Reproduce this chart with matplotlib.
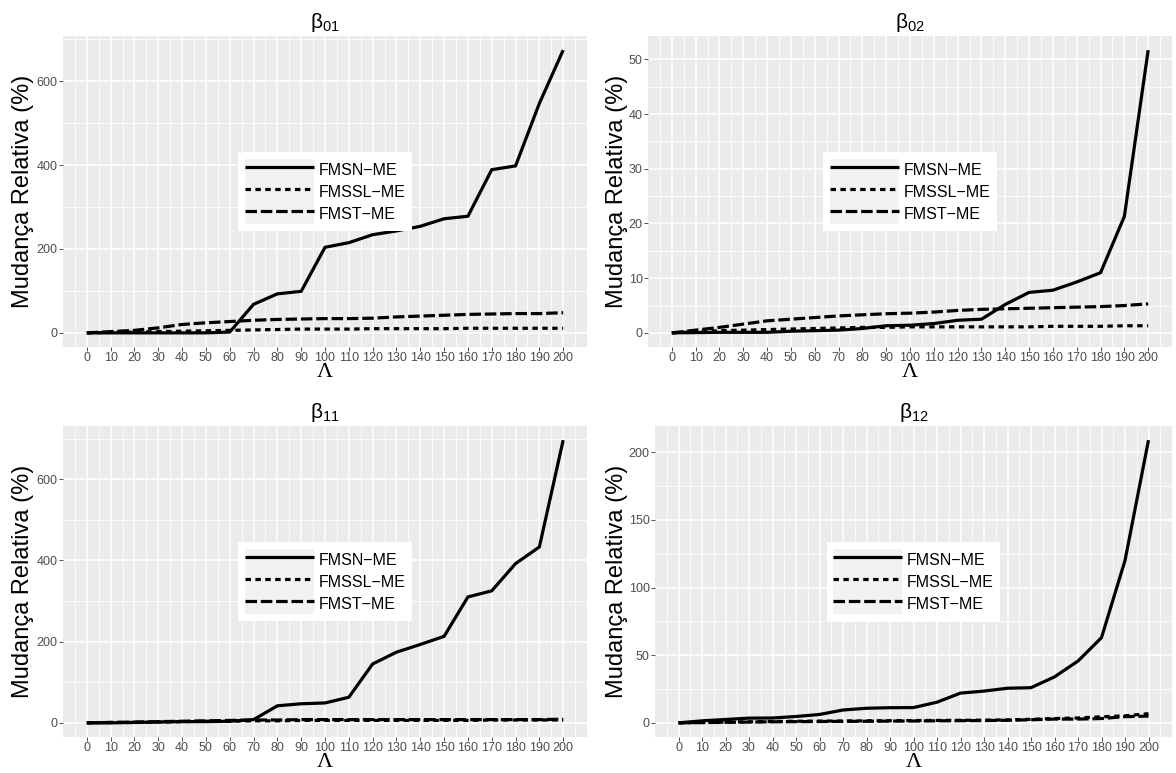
import numpy as np
import matplotlib
matplotlib.use('Agg')
import matplotlib.pyplot as plt
import matplotlib.transforms as mtransforms
from matplotlib.legend_handler import HandlerLine2D
from matplotlib.patches import Rectangle
from matplotlib.lines import Line2D

plt.rcParams['font.family'] = ['Liberation Sans', 'DejaVu Sans']
plt.rcParams['mathtext.default'] = 'regular'

# valores de lambda
lam = list(range(0, 201, 10))

# beta_01
b01_fmsn = [0, 0, 0, 0, 0, 0, 2, 68, 93, 99, 204, 215, 234, 243, 254, 272, 278, 389, 398, 547, 674]
b01_fmssl = [0, 1, 2, 3, 4, 5, 6, 7, 8, 9, 9, 9, 10, 10, 10, 10, 11, 11, 11, 11, 11]
b01_fmst = [0, 3, 6, 12, 20, 24, 27, 30, 32, 33, 34, 34, 35, 38, 40, 42, 44, 45, 46, 46, 48]

# beta_02
b02_fmsn = [0, 0.05, 0.1, 0.1, 0.1, 0.3, 0.4, 0.5, 0.8, 1.3, 1.4, 1.7, 2.3, 2.5, 5.2, 7.4, 7.8, 9.3, 11.0, 21.3, 51.7]
b02_fmssl = [0, 0.2, 0.4, 0.5, 0.6, 0.7, 0.8, 0.9, 1.0, 1.0, 1.1, 1.1, 1.1, 1.1, 1.1, 1.1, 1.2, 1.2, 1.2, 1.3, 1.3]
b02_fmst = [0, 0.5, 1.0, 1.6, 2.2, 2.5, 2.8, 3.1, 3.3, 3.5, 3.6, 3.8, 4.1, 4.3, 4.4, 4.5, 4.6, 4.7, 4.8, 5.0, 5.3]

# beta_11
b11_fmsn = [0, 0, 1, 2, 3, 3, 4, 8, 42, 47, 49, 63, 145, 174, 193, 213, 310, 325, 392, 433, 696]
b11_fmssl = [0, 1, 1, 2, 3, 4, 4, 5, 5, 6, 6, 6, 6, 6, 6, 6, 6, 7, 7, 7, 7]
b11_fmst = [0, 1, 2, 3, 4, 5, 6, 7, 7, 8, 8, 8, 8, 8, 8, 8, 8, 8, 8, 8, 9]

# beta_12
b12_fmsn = [0, 1.5, 2.5, 3.5, 3.6, 4.7, 6.2, 9.5, 10.8, 11.2, 11.3, 15.3, 22, 23.5, 25.6, 26, 34, 45.7, 63, 120, 209]
b12_fmssl = [0, 0.3, 0.6, 0.8, 1.0, 1.2, 1.3, 1.4, 1.5, 1.6, 1.7, 1.8, 1.9, 2.0, 2.2, 2.6, 3.2, 3.6, 4.5, 5.2, 6.8]
b12_fmst = [0, 0.2, 0.4, 0.6, 0.8, 0.9, 1.0, 1.1, 1.2, 1.3, 1.4, 1.5, 1.6, 1.7, 1.9, 2.3, 2.8, 2.8, 3.2, 4.6, 5.0]

nomes = ['FMSN\u2212ME', 'FMSSL\u2212ME', 'FMST\u2212ME']
titulos = [r'$\beta_{01}$', r'$\beta_{02}$', r'$\beta_{11}$', r'$\beta_{12}$']
dados = [
    (b01_fmsn, b01_fmssl, b01_fmst),
    (b02_fmsn, b02_fmssl, b02_fmst),
    (b11_fmsn, b11_fmssl, b11_fmst),
    (b12_fmsn, b12_fmssl, b12_fmst),
]
yticks = [[0, 200, 400, 600], [0, 10, 20, 30, 40, 50], [0, 200, 400, 600], [0, 50, 100, 150, 200]]

estilos = [dict(linestyle='-'),
           dict(linestyle=(0, (1.7, 1.4))),
           dict(linestyle=(0, (3.6, 1.2)))]

W, H = 1176, 773
# (esquerda, direita, topo, base) em pixels
caixas = [(63, 587, 36, 347), (648, 1172, 36, 347), (63, 587, 426, 737), (655, 1172, 426, 737)]
ylab_x = [34, 628, 34, 628]


class ChaveCinza(HandlerLine2D):
    # fundo cinza das chaves da legenda, como no ggplot
    def create_artists(self, legend, orig_handle, xdescent, ydescent, width, height, fontsize, trans):
        fundo = Rectangle((-xdescent, -ydescent), width, height, facecolor='#F2F2F2',
                          edgecolor='none', transform=trans)
        arts = super().create_artists(legend, orig_handle, xdescent, ydescent, width, height, fontsize, trans)
        return [fundo] + list(arts)


fig = plt.figure(figsize=(W / 100, H / 100), dpi=100)

for series, tit, yt, cx, lx in zip(dados, titulos, yticks, caixas, ylab_x):
    l, r, t, b = cx
    ax = fig.add_axes([l / W, 1 - b / H, (r - l) / W, (b - t) / H])
    ax.set_facecolor('#EBEBEB')
    for s, nome, est in zip(series, nomes, estilos):
        ax.plot(lam, s, color='black', linewidth=2.3, label=nome, solid_capstyle='butt',
                dash_capstyle='butt', **est)

    todos = np.concatenate([np.array(s, dtype=float) for s in series])
    lo, hi = todos.min(), todos.max()
    pad = 0.05 * (hi - lo)
    ax.set_xlim(-10, 210)

    ax.set_xticks(lam)
    ax.set_xticks(np.arange(-5, 210, 10), minor=True)
    ax.set_yticks(yt)
    passo = yt[1] - yt[0]
    ax.set_yticks(np.arange(yt[0] - passo / 2, hi + pad, passo), minor=True)
    ax.set_ylim(lo - pad, hi + pad)

    ax.grid(which='major', color='white', linewidth=1.1)
    ax.grid(which='minor', color='white', linewidth=0.55)
    ax.set_axisbelow(True)
    for sp in ax.spines.values():
        sp.set_visible(False)
    ax.tick_params(which='major', length=2.75, width=0.6, color='#333333',
                   labelsize=9, labelcolor='#4D4D4D', pad=1)
    ax.tick_params(which='minor', length=0)

    ax.set_title(tit, fontsize=15, pad=6)
    ax.set_xlabel('\u039b', fontsize=16, family=['Liberation Serif', 'DejaVu Serif'], labelpad=-1)
    ax.set_ylabel('Mudança Relativa (%)', fontsize=17)
    ax.yaxis.set_label_coords(lx / W, 0.5,
                              transform=mtransforms.blended_transform_factory(fig.transFigure, ax.transAxes))

    handles = [Line2D([], [], color='black', linewidth=2.3, solid_capstyle='butt', **est) for est in estilos]
    ax.legend(handles, nomes, loc='center', fontsize=11.5, frameon=True, fancybox=False,
              edgecolor='none', facecolor='white', framealpha=1, handlelength=4.3,
              handleheight=1.74, labelspacing=0, borderpad=0.4, handletextpad=0.3,
              borderaxespad=0, handler_map={Line2D: ChaveCinza()})

fig.savefig('out.png', dpi=100)
